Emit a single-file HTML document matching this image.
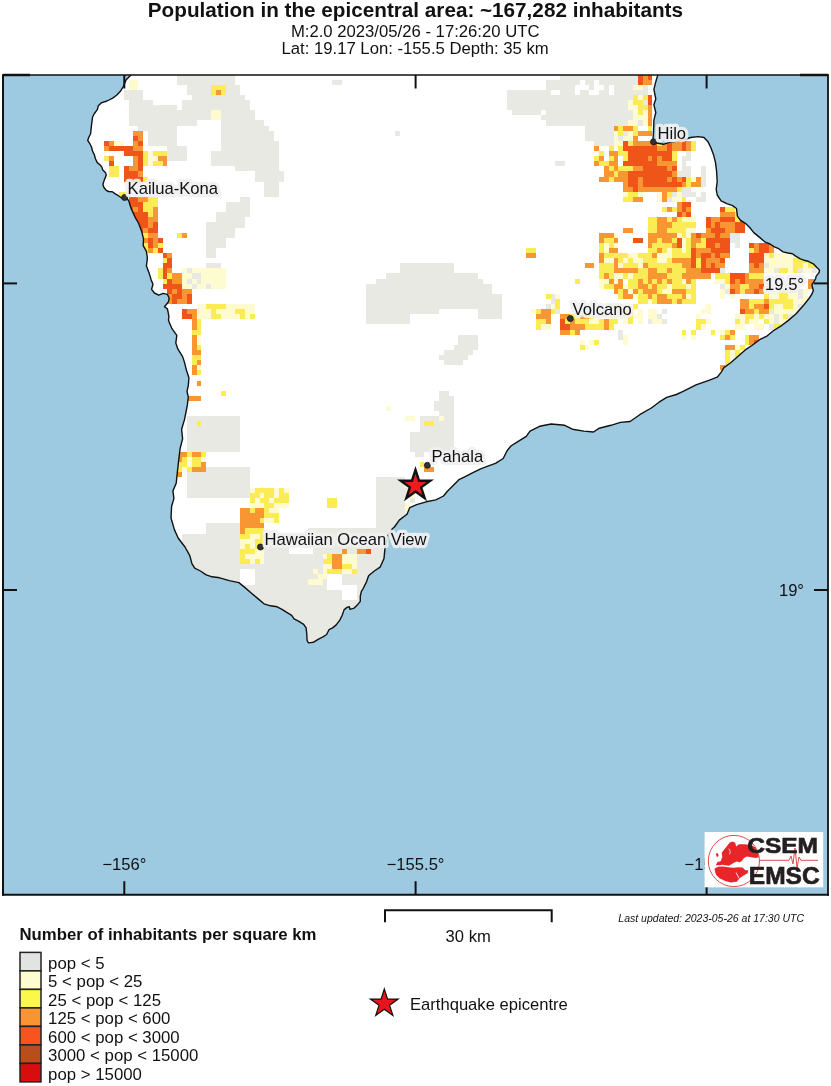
<!DOCTYPE html>
<html><head><meta charset="utf-8"><title>Population map</title>
<style>
html,body{margin:0;padding:0;background:#fff;}
body{width:831px;height:1086px;overflow:hidden;position:relative;}
svg{position:absolute;left:0;top:0;font-family:"Liberation Sans", sans-serif;-webkit-font-smoothing:antialiased;}
</style></head><body>
<svg width="831" height="1086" viewBox="0 0 831 1086" style="will-change:transform">
<rect x="3" y="75" width="825" height="819.7" fill="#9ecae1"/>
<defs><clipPath id="land"><polygon points="131,75 657.8,75 655.8,81.7 653.9,89.4 655.8,99 653.9,104.8 655.8,112.5 653.9,120.2 653.5,131.8 652.9,141.4 657.8,143.3 663.5,144.3 669.3,142.3 677,141.4 684.7,139.5 690.5,137.5 698.2,136.6 704,137.5 707.8,141.4 710.7,147.2 713.6,154.9 715.5,162.6 716.5,170.3 717.2,181.6 716.2,189.3 717.2,195 721.1,200.8 726.8,203.7 732.6,205.6 736.5,208.5 737.4,216.2 740.3,220.1 746.1,223.9 749.9,227.8 753.8,232.6 759.6,237.4 765.3,242.2 770,244 774.3,246.9 778.7,248.7 783,251.9 788,253 792.4,253.7 795.3,255.9 800.3,258.8 803.9,260.2 808.3,261.3 813.3,263.8 816.9,267.4 819.5,270.3 819.1,272.5 816.2,276.1 815.5,279 813.3,282.6 811.9,284.8 812.6,287.7 813.3,290.5 811.9,294.2 809,298.5 803.8,305 796.1,313.7 788.4,320.4 780.7,326.2 773,331 767.3,335.8 759.6,339.7 751.9,345.5 746.1,349.3 738.4,356 730.7,362.8 723.9,367.6 721.1,372.4 717.2,377.2 709.5,380.1 696,384.9 682.6,391.7 676.3,394.5 666.7,397.4 659,402.2 651.3,408 639.7,414.7 630.1,421.5 620.5,422.4 610.9,425.3 599.3,428.2 593.5,432 583.9,431.1 572.4,429.2 564.7,425.3 551.2,424 539.6,426.3 530,431.1 526.3,436.4 518.6,441.2 510.9,446 507.1,450.8 503.2,458.5 495.5,463.3 487.8,466.2 480.1,469.1 472.4,472.9 464.7,476.8 458.9,479.7 453.2,485.5 447.4,491.2 443.5,496 435.8,499.9 426.2,501.8 416.6,504.7 409.8,507.6 407,514.3 399.3,520.1 394.4,527 392.6,528.5 387.8,535.4 384.9,548.9 384,558.5 380.1,567.2 374.3,571 368.6,575.8 366.6,581.6 362.8,589.3 361.5,591.2 360.3,596 360.3,601.4 357.8,604.4 354.2,608.1 350,609.3 349.4,606.8 347,607.4 344,609.9 342.2,615.3 339.8,620.1 336.2,624.9 332.6,627.9 329,629.7 326.6,634.5 323,636.9 318.1,639.3 313.3,642.3 308.5,642.9 307.1,640.5 306.7,633.3 306.1,627.9 303.7,624.3 298.9,621.3 294.1,618.9 291.7,615.3 286.8,612.3 282,609.3 277.2,606.8 270.5,605.8 264,603.8 258.2,598.9 251.5,593.2 244.7,587.4 238.9,582.6 229.3,580.6 219.7,577.8 212,576.8 206.2,574.9 200.4,571 194.7,568.1 191.8,563.3 189.8,555.6 185,547 178.3,538.3 174.4,529.6 171.6,520 171,517.8 171.6,506.3 173.9,498.6 172.9,490.9 176.2,483.2 177.4,471.6 178.7,460.1 180.1,448.5 182.6,438.9 181.6,429.3 184.5,419.6 186.4,410 187.4,404.7 188.3,397 187,391.3 188.3,385.5 188.9,377.8 186.4,370.1 184.5,362.4 182.6,356.6 177.8,348.9 175.8,343.1 176.8,335.4 172,328.7 169.1,322 168.5,320 168.9,316.8 168.2,312.5 167.4,308.9 164.5,306.7 168.5,301.7 169.2,298 167.4,294.4 163.1,293.4 158.8,295.2 154.4,293 151.6,289.4 153,284.3 151.2,280 149.3,273.6 146.4,265.9 147.4,258.2 146.4,251.4 143.2,245.6 143.5,238.9 141.6,231.2 138.7,223.5 134.9,216.8 131,208.1 130,205 129.1,201.7 127.3,198.7 124.3,198.7 121.3,197.8 118.3,195.7 115.3,193.9 112.3,191.8 108.7,191.5 106.2,190.3 103.8,187.3 102.9,184.3 104.1,180.6 105,178.2 106.2,175.2 105.6,172.8 102.6,169.8 102,167.4 100.2,165 97.3,162.6 95.4,158.7 94.4,154.9 92.5,151.0 91.6,147.2 89.6,143.3 87.7,140.4 88.7,137.5 90.6,133.7 91.2,127.9 91.9,122.1 92.5,117.3 94.4,113.5 97.3,109.6 98.3,105.8 101.2,102.9 107.0,101.0 112.7,98.1 116.6,95.2 120.4,91.3 123.3,86.5 126.2,79.8 131,75"/></clipPath></defs>
<polygon points="131,75 657.8,75 655.8,81.7 653.9,89.4 655.8,99 653.9,104.8 655.8,112.5 653.9,120.2 653.5,131.8 652.9,141.4 657.8,143.3 663.5,144.3 669.3,142.3 677,141.4 684.7,139.5 690.5,137.5 698.2,136.6 704,137.5 707.8,141.4 710.7,147.2 713.6,154.9 715.5,162.6 716.5,170.3 717.2,181.6 716.2,189.3 717.2,195 721.1,200.8 726.8,203.7 732.6,205.6 736.5,208.5 737.4,216.2 740.3,220.1 746.1,223.9 749.9,227.8 753.8,232.6 759.6,237.4 765.3,242.2 770,244 774.3,246.9 778.7,248.7 783,251.9 788,253 792.4,253.7 795.3,255.9 800.3,258.8 803.9,260.2 808.3,261.3 813.3,263.8 816.9,267.4 819.5,270.3 819.1,272.5 816.2,276.1 815.5,279 813.3,282.6 811.9,284.8 812.6,287.7 813.3,290.5 811.9,294.2 809,298.5 803.8,305 796.1,313.7 788.4,320.4 780.7,326.2 773,331 767.3,335.8 759.6,339.7 751.9,345.5 746.1,349.3 738.4,356 730.7,362.8 723.9,367.6 721.1,372.4 717.2,377.2 709.5,380.1 696,384.9 682.6,391.7 676.3,394.5 666.7,397.4 659,402.2 651.3,408 639.7,414.7 630.1,421.5 620.5,422.4 610.9,425.3 599.3,428.2 593.5,432 583.9,431.1 572.4,429.2 564.7,425.3 551.2,424 539.6,426.3 530,431.1 526.3,436.4 518.6,441.2 510.9,446 507.1,450.8 503.2,458.5 495.5,463.3 487.8,466.2 480.1,469.1 472.4,472.9 464.7,476.8 458.9,479.7 453.2,485.5 447.4,491.2 443.5,496 435.8,499.9 426.2,501.8 416.6,504.7 409.8,507.6 407,514.3 399.3,520.1 394.4,527 392.6,528.5 387.8,535.4 384.9,548.9 384,558.5 380.1,567.2 374.3,571 368.6,575.8 366.6,581.6 362.8,589.3 361.5,591.2 360.3,596 360.3,601.4 357.8,604.4 354.2,608.1 350,609.3 349.4,606.8 347,607.4 344,609.9 342.2,615.3 339.8,620.1 336.2,624.9 332.6,627.9 329,629.7 326.6,634.5 323,636.9 318.1,639.3 313.3,642.3 308.5,642.9 307.1,640.5 306.7,633.3 306.1,627.9 303.7,624.3 298.9,621.3 294.1,618.9 291.7,615.3 286.8,612.3 282,609.3 277.2,606.8 270.5,605.8 264,603.8 258.2,598.9 251.5,593.2 244.7,587.4 238.9,582.6 229.3,580.6 219.7,577.8 212,576.8 206.2,574.9 200.4,571 194.7,568.1 191.8,563.3 189.8,555.6 185,547 178.3,538.3 174.4,529.6 171.6,520 171,517.8 171.6,506.3 173.9,498.6 172.9,490.9 176.2,483.2 177.4,471.6 178.7,460.1 180.1,448.5 182.6,438.9 181.6,429.3 184.5,419.6 186.4,410 187.4,404.7 188.3,397 187,391.3 188.3,385.5 188.9,377.8 186.4,370.1 184.5,362.4 182.6,356.6 177.8,348.9 175.8,343.1 176.8,335.4 172,328.7 169.1,322 168.5,320 168.9,316.8 168.2,312.5 167.4,308.9 164.5,306.7 168.5,301.7 169.2,298 167.4,294.4 163.1,293.4 158.8,295.2 154.4,293 151.6,289.4 153,284.3 151.2,280 149.3,273.6 146.4,265.9 147.4,258.2 146.4,251.4 143.2,245.6 143.5,238.9 141.6,231.2 138.7,223.5 134.9,216.8 131,208.1 130,205 129.1,201.7 127.3,198.7 124.3,198.7 121.3,197.8 118.3,195.7 115.3,193.9 112.3,191.8 108.7,191.5 106.2,190.3 103.8,187.3 102.9,184.3 104.1,180.6 105,178.2 106.2,175.2 105.6,172.8 102.6,169.8 102,167.4 100.2,165 97.3,162.6 95.4,158.7 94.4,154.9 92.5,151.0 91.6,147.2 89.6,143.3 87.7,140.4 88.7,137.5 90.6,133.7 91.2,127.9 91.9,122.1 92.5,117.3 94.4,113.5 97.3,109.6 98.3,105.8 101.2,102.9 107.0,101.0 112.7,98.1 116.6,95.2 120.4,91.3 123.3,86.5 126.2,79.8 131,75" fill="#fff"/>
<g clip-path="url(#land)" shape-rendering="crispEdges"><path fill="#e8e9e2" d="M177.10,74.50h58.20v5.10h-58.20zM560.25,74.50h77.60v5.10h-77.60zM177.10,79.60h58.20v5.10h-58.20zM332.30,79.60h9.70v5.10h-9.70zM545.70,79.60h33.95v5.10h-33.95zM584.50,79.60h9.70v5.10h-9.70zM599.05,79.60h38.80v5.10h-38.80zM186.80,84.70h24.25v5.10h-24.25zM225.60,84.70h14.55v5.10h-14.55zM545.70,84.70h29.10v5.10h-29.10zM589.35,84.70h4.85v5.10h-4.85zM603.90,84.70h4.85v5.10h-4.85zM613.60,84.70h19.40v5.10h-19.40zM642.70,84.70h4.85v5.10h-4.85zM123.75,89.80h19.40v5.10h-19.40zM186.80,89.80h24.25v5.10h-24.25zM225.60,89.80h14.55v5.10h-14.55zM506.90,89.80h43.65v5.10h-43.65zM560.25,89.80h14.55v5.10h-14.55zM579.65,89.80h9.70v5.10h-9.70zM599.05,89.80h9.70v5.10h-9.70zM613.60,89.80h33.95v5.10h-33.95zM123.75,94.90h19.40v5.10h-19.40zM191.65,94.90h53.35v5.10h-53.35zM506.90,94.90h126.10v5.10h-126.10zM128.60,100.00h24.25v5.10h-24.25zM181.95,100.00h67.90v5.10h-67.90zM506.90,100.00h121.25v5.10h-121.25zM642.70,100.00h4.85v5.10h-4.85zM128.60,105.10h48.50v5.10h-48.50zM181.95,105.10h67.90v5.10h-67.90zM506.90,105.10h121.25v5.10h-121.25zM128.60,110.20h82.45v5.10h-82.45zM220.75,110.20h33.95v5.10h-33.95zM511.75,110.20h29.10v5.10h-29.10zM545.70,110.20h87.30v5.10h-87.30zM128.60,115.30h82.45v5.10h-82.45zM220.75,115.30h33.95v5.10h-33.95zM540.85,115.30h92.15v5.10h-92.15zM128.60,120.40h67.90v5.10h-67.90zM220.75,120.40h43.65v5.10h-43.65zM545.70,120.40h82.45v5.10h-82.45zM637.85,120.40h4.85v5.10h-4.85zM138.30,125.50h38.80v5.10h-38.80zM220.75,125.50h48.50v5.10h-48.50zM584.50,125.50h29.10v5.10h-29.10zM148.00,130.60h29.10v5.10h-29.10zM220.75,130.60h53.35v5.10h-53.35zM395.35,130.60h4.85v5.10h-4.85zM584.50,130.60h29.10v5.10h-29.10zM623.30,130.60h4.85v5.10h-4.85zM148.00,135.70h29.10v5.10h-29.10zM220.75,135.70h53.35v5.10h-53.35zM584.50,135.70h29.10v5.10h-29.10zM618.45,135.70h4.85v5.10h-4.85zM148.00,140.80h29.10v5.10h-29.10zM220.75,140.80h58.20v5.10h-58.20zM594.20,140.80h19.40v5.10h-19.40zM167.40,145.90h19.40v5.10h-19.40zM220.75,145.90h58.20v5.10h-58.20zM167.40,151.00h19.40v5.10h-19.40zM211.05,151.00h67.90v5.10h-67.90zM686.35,151.00h4.85v5.10h-4.85zM167.40,156.10h19.40v5.10h-19.40zM211.05,156.10h67.90v5.10h-67.90zM681.50,156.10h9.70v5.10h-9.70zM211.05,161.20h67.90v5.10h-67.90zM555.40,161.20h9.70v5.10h-9.70zM681.50,161.20h4.85v5.10h-4.85zM235.30,166.30h43.65v5.10h-43.65zM681.50,166.30h9.70v5.10h-9.70zM700.90,166.30h4.85v5.10h-4.85zM254.70,171.40h29.10v5.10h-29.10zM676.65,171.40h14.55v5.10h-14.55zM700.90,171.40h4.85v5.10h-4.85zM254.70,176.50h29.10v5.10h-29.10zM700.90,176.50h4.85v5.10h-4.85zM264.40,181.60h14.55v5.10h-14.55zM700.90,181.60h4.85v5.10h-4.85zM264.40,186.70h14.55v5.10h-14.55zM681.50,186.70h9.70v5.10h-9.70zM264.40,191.80h14.55v5.10h-14.55zM671.80,191.80h4.85v5.10h-4.85zM681.50,191.80h14.55v5.10h-14.55zM700.90,191.80h4.85v5.10h-4.85zM240.15,196.90h9.70v5.10h-9.70zM666.95,196.90h4.85v5.10h-4.85zM696.05,196.90h9.70v5.10h-9.70zM225.60,202.00h24.25v5.10h-24.25zM225.60,207.10h24.25v5.10h-24.25zM215.90,212.20h33.95v5.10h-33.95zM215.90,217.30h29.10v5.10h-29.10zM206.20,222.40h38.80v5.10h-38.80zM206.20,227.50h29.10v5.10h-29.10zM206.20,232.60h29.10v5.10h-29.10zM730.00,232.60h9.70v5.10h-9.70zM206.20,237.70h19.40v5.10h-19.40zM730.00,237.70h9.70v5.10h-9.70zM206.20,242.80h19.40v5.10h-19.40zM734.85,242.80h4.85v5.10h-4.85zM206.20,247.90h9.70v5.10h-9.70zM206.20,253.00h9.70v5.10h-9.70zM186.80,268.30h4.85v5.10h-4.85zM400.20,268.30h53.35v5.10h-53.35zM720.30,268.30h4.85v5.10h-4.85zM773.65,268.30h4.85v5.10h-4.85zM797.90,268.30h4.85v5.10h-4.85zM812.45,268.30h4.85v5.10h-4.85zM206.20,263.20h14.55v5.10h-14.55zM400.20,263.20h53.35v5.10h-53.35zM763.95,263.20h4.85v5.10h-4.85zM191.65,273.40h9.70v5.10h-9.70zM385.65,273.40h92.15v5.10h-92.15zM186.80,278.50h4.85v5.10h-4.85zM196.50,278.50h4.85v5.10h-4.85zM375.95,278.50h106.70v5.10h-106.70zM191.65,283.60h4.85v5.10h-4.85zM206.20,283.60h4.85v5.10h-4.85zM366.25,283.60h126.10v5.10h-126.10zM720.30,283.60h4.85v5.10h-4.85zM366.25,288.70h126.10v5.10h-126.10zM725.15,288.70h4.85v5.10h-4.85zM797.90,288.70h4.85v5.10h-4.85zM366.25,293.80h135.80v5.10h-135.80zM550.55,293.80h4.85v5.10h-4.85zM797.90,293.80h4.85v5.10h-4.85zM366.25,298.90h135.80v5.10h-135.80zM550.55,298.90h4.85v5.10h-4.85zM366.25,304.00h135.80v5.10h-135.80zM545.70,304.00h4.85v5.10h-4.85zM797.90,304.00h9.70v5.10h-9.70zM366.25,309.10h72.75v5.10h-72.75zM477.80,309.10h24.25v5.10h-24.25zM555.40,309.10h4.85v5.10h-4.85zM662.10,309.10h4.85v5.10h-4.85zM768.80,309.10h4.85v5.10h-4.85zM797.90,309.10h4.85v5.10h-4.85zM366.25,314.20h43.65v5.10h-43.65zM477.80,314.20h24.25v5.10h-24.25zM657.25,314.20h4.85v5.10h-4.85zM773.65,314.20h4.85v5.10h-4.85zM788.20,314.20h4.85v5.10h-4.85zM366.25,319.30h43.65v5.10h-43.65zM647.55,319.30h4.85v5.10h-4.85zM662.10,319.30h4.85v5.10h-4.85zM773.65,319.30h4.85v5.10h-4.85zM439.00,390.70h9.70v5.10h-9.70zM439.00,395.80h14.55v5.10h-14.55zM458.40,334.60h19.40v5.10h-19.40zM618.45,334.60h4.85v5.10h-4.85zM458.40,339.70h19.40v5.10h-19.40zM453.55,344.80h24.25v5.10h-24.25zM443.85,349.90h29.10v5.10h-29.10zM439.00,355.00h29.10v5.10h-29.10zM443.85,360.10h19.40v5.10h-19.40zM434.15,400.90h19.40v5.10h-19.40zM434.15,406.00h19.40v5.10h-19.40zM439.00,411.10h14.55v5.10h-14.55zM186.80,416.20h53.35v5.10h-53.35zM419.60,416.20h19.40v5.10h-19.40zM443.85,416.20h9.70v5.10h-9.70zM186.80,421.30h9.70v5.10h-9.70zM201.35,421.30h38.80v5.10h-38.80zM419.60,421.30h4.85v5.10h-4.85zM434.15,421.30h19.40v5.10h-19.40zM186.80,426.40h53.35v5.10h-53.35zM419.60,426.40h33.95v5.10h-33.95zM186.80,431.50h53.35v5.10h-53.35zM409.90,431.50h43.65v5.10h-43.65zM186.80,436.60h53.35v5.10h-53.35zM409.90,436.60h43.65v5.10h-43.65zM186.80,441.70h53.35v5.10h-53.35zM409.90,441.70h43.65v5.10h-43.65zM186.80,446.80h53.35v5.10h-53.35zM409.90,446.80h43.65v5.10h-43.65zM414.75,451.90h9.70v5.10h-9.70zM186.80,477.40h63.05v5.10h-63.05zM375.95,477.40h29.10v5.10h-29.10zM186.80,482.50h63.05v5.10h-63.05zM375.95,482.50h29.10v5.10h-29.10zM186.80,487.60h63.05v5.10h-63.05zM375.95,487.60h33.95v5.10h-33.95zM186.80,492.70h63.05v5.10h-63.05zM375.95,492.70h33.95v5.10h-33.95zM375.95,497.80h29.10v5.10h-29.10zM409.90,497.80h4.85v5.10h-4.85zM375.95,502.90h29.10v5.10h-29.10zM375.95,508.00h29.10v5.10h-29.10zM375.95,513.10h33.95v5.10h-33.95zM375.95,518.20h33.95v5.10h-33.95zM206.20,467.20h43.65v5.10h-43.65zM186.80,472.30h63.05v5.10h-63.05zM206.20,523.30h33.95v5.10h-33.95zM375.95,523.30h33.95v5.10h-33.95zM206.20,528.40h33.95v5.10h-33.95zM308.05,528.40h101.85v5.10h-101.85zM181.95,533.50h58.20v5.10h-58.20zM264.40,533.50h121.25v5.10h-121.25zM181.95,538.60h58.20v5.10h-58.20zM264.40,538.60h121.25v5.10h-121.25zM181.95,543.70h58.20v5.10h-58.20zM264.40,543.70h24.25v5.10h-24.25zM312.90,543.70h72.75v5.10h-72.75zM181.95,548.80h58.20v5.10h-58.20zM264.40,548.80h24.25v5.10h-24.25zM312.90,548.80h29.10v5.10h-29.10zM346.85,548.80h9.70v5.10h-9.70zM371.10,548.80h14.55v5.10h-14.55zM181.95,553.90h58.20v5.10h-58.20zM264.40,553.90h58.20v5.10h-58.20zM356.55,553.90h29.10v5.10h-29.10zM181.95,559.00h58.20v5.10h-58.20zM264.40,559.00h58.20v5.10h-58.20zM356.55,559.00h29.10v5.10h-29.10zM181.95,564.10h140.65v5.10h-140.65zM356.55,564.10h29.10v5.10h-29.10zM181.95,569.20h58.20v5.10h-58.20zM254.70,569.20h58.20v5.10h-58.20zM317.75,569.20h4.85v5.10h-4.85zM356.55,569.20h29.10v5.10h-29.10zM181.95,574.30h58.20v5.10h-58.20zM254.70,574.30h63.05v5.10h-63.05zM342.00,574.30h43.65v5.10h-43.65zM181.95,579.40h58.20v5.10h-58.20zM254.70,579.40h53.35v5.10h-53.35zM322.60,579.40h4.85v5.10h-4.85zM342.00,579.40h43.65v5.10h-43.65zM196.50,584.50h130.95v5.10h-130.95zM356.55,584.50h14.55v5.10h-14.55zM196.50,589.60h145.50v5.10h-145.50zM356.55,589.60h14.55v5.10h-14.55zM196.50,594.70h145.50v5.10h-145.50zM356.55,594.70h14.55v5.10h-14.55zM196.50,599.80h174.60v5.10h-174.60zM196.50,604.90h174.60v5.10h-174.60zM254.70,610.00h87.30v5.10h-87.30zM254.70,615.10h87.30v5.10h-87.30zM254.70,620.20h87.30v5.10h-87.30zM254.70,625.30h87.30v5.10h-87.30zM293.50,630.40h38.80v5.10h-38.80zM293.50,635.50h38.80v5.10h-38.80zM618.45,329.50h4.85v5.10h-4.85zM768.80,324.40h4.85v5.10h-4.85zM793.05,324.40h9.70v5.10h-9.70z"/><path fill="#fdfbcf" d="M128.60,79.60h9.70v5.10h-9.70zM128.60,84.70h9.70v5.10h-9.70zM633.00,84.70h9.70v5.10h-9.70zM637.85,94.90h4.85v5.10h-4.85zM628.15,100.00h4.85v5.10h-4.85zM628.15,105.10h9.70v5.10h-9.70zM211.05,110.20h9.70v5.10h-9.70zM633.00,110.20h4.85v5.10h-4.85zM642.70,110.20h4.85v5.10h-4.85zM211.05,115.30h9.70v5.10h-9.70zM633.00,115.30h14.55v5.10h-14.55zM628.15,120.40h9.70v5.10h-9.70zM642.70,120.40h4.85v5.10h-4.85zM613.60,130.60h4.85v5.10h-4.85zM628.15,130.60h4.85v5.10h-4.85zM613.60,135.70h4.85v5.10h-4.85zM623.30,135.70h9.70v5.10h-9.70zM114.05,140.80h9.70v5.10h-9.70zM613.60,140.80h9.70v5.10h-9.70zM148.00,151.00h4.85v5.10h-4.85zM148.00,156.10h9.70v5.10h-9.70zM148.00,161.20h4.85v5.10h-4.85zM691.20,176.50h4.85v5.10h-4.85zM623.30,191.80h4.85v5.10h-4.85zM637.85,191.80h4.85v5.10h-4.85zM657.25,191.80h4.85v5.10h-4.85zM676.65,191.80h4.85v5.10h-4.85zM657.25,196.90h4.85v5.10h-4.85zM671.80,196.90h9.70v5.10h-9.70zM681.50,217.30h14.55v5.10h-14.55zM686.35,227.50h9.70v5.10h-9.70zM613.60,232.60h4.85v5.10h-4.85zM676.65,232.60h4.85v5.10h-4.85zM686.35,232.60h4.85v5.10h-4.85zM681.50,237.70h4.85v5.10h-4.85zM603.90,242.80h4.85v5.10h-4.85zM613.60,242.80h4.85v5.10h-4.85zM681.50,242.80h4.85v5.10h-4.85zM603.90,247.90h4.85v5.10h-4.85zM666.95,247.90h4.85v5.10h-4.85zM681.50,247.90h4.85v5.10h-4.85zM628.15,253.00h9.70v5.10h-9.70zM657.25,253.00h14.55v5.10h-14.55zM763.95,253.00h4.85v5.10h-4.85zM773.65,253.00h24.25v5.10h-24.25zM807.60,253.00h4.85v5.10h-4.85zM181.95,268.30h4.85v5.10h-4.85zM191.65,268.30h33.95v5.10h-33.95zM763.95,268.30h9.70v5.10h-9.70zM788.20,268.30h4.85v5.10h-4.85zM802.75,268.30h9.70v5.10h-9.70zM618.45,263.20h4.85v5.10h-4.85zM637.85,263.20h4.85v5.10h-4.85zM768.80,263.20h24.25v5.10h-24.25zM802.75,263.20h4.85v5.10h-4.85zM181.95,273.40h9.70v5.10h-9.70zM201.35,273.40h24.25v5.10h-24.25zM613.60,273.40h9.70v5.10h-9.70zM628.15,273.40h4.85v5.10h-4.85zM181.95,278.50h4.85v5.10h-4.85zM191.65,278.50h4.85v5.10h-4.85zM201.35,278.50h24.25v5.10h-24.25zM599.05,278.50h9.70v5.10h-9.70zM613.60,278.50h4.85v5.10h-4.85zM681.50,278.50h4.85v5.10h-4.85zM715.45,278.50h9.70v5.10h-9.70zM181.95,283.60h9.70v5.10h-9.70zM196.50,283.60h9.70v5.10h-9.70zM211.05,283.60h14.55v5.10h-14.55zM599.05,283.60h4.85v5.10h-4.85zM623.30,283.60h4.85v5.10h-4.85zM666.95,283.60h4.85v5.10h-4.85zM686.35,283.60h4.85v5.10h-4.85zM725.15,283.60h4.85v5.10h-4.85zM628.15,288.70h4.85v5.10h-4.85zM662.10,288.70h9.70v5.10h-9.70zM720.30,288.70h4.85v5.10h-4.85zM763.95,288.70h14.55v5.10h-14.55zM788.20,288.70h9.70v5.10h-9.70zM802.75,288.70h4.85v5.10h-4.85zM555.40,293.80h4.85v5.10h-4.85zM633.00,293.80h4.85v5.10h-4.85zM686.35,293.80h4.85v5.10h-4.85zM720.30,293.80h4.85v5.10h-4.85zM730.00,293.80h4.85v5.10h-4.85zM768.80,293.80h9.70v5.10h-9.70zM788.20,293.80h9.70v5.10h-9.70zM802.75,293.80h4.85v5.10h-4.85zM647.55,298.90h4.85v5.10h-4.85zM793.05,298.90h14.55v5.10h-14.55zM196.50,304.00h9.70v5.10h-9.70zM225.60,304.00h29.10v5.10h-29.10zM550.55,304.00h4.85v5.10h-4.85zM623.30,304.00h4.85v5.10h-4.85zM705.75,304.00h4.85v5.10h-4.85zM773.65,304.00h9.70v5.10h-9.70zM793.05,304.00h4.85v5.10h-4.85zM196.50,309.10h14.55v5.10h-14.55zM215.90,309.10h19.40v5.10h-19.40zM245.00,309.10h9.70v5.10h-9.70zM531.15,309.10h4.85v5.10h-4.85zM637.85,309.10h4.85v5.10h-4.85zM647.55,309.10h9.70v5.10h-9.70zM700.90,309.10h9.70v5.10h-9.70zM773.65,309.10h24.25v5.10h-24.25zM196.50,314.20h14.55v5.10h-14.55zM220.75,314.20h19.40v5.10h-19.40zM245.00,314.20h4.85v5.10h-4.85zM608.75,314.20h19.40v5.10h-19.40zM633.00,314.20h9.70v5.10h-9.70zM647.55,314.20h9.70v5.10h-9.70zM696.05,314.20h4.85v5.10h-4.85zM734.85,314.20h9.70v5.10h-9.70zM754.25,314.20h4.85v5.10h-4.85zM763.95,314.20h9.70v5.10h-9.70zM778.50,314.20h4.85v5.10h-4.85zM793.05,314.20h9.70v5.10h-9.70zM589.35,319.30h9.70v5.10h-9.70zM623.30,319.30h4.85v5.10h-4.85zM637.85,319.30h4.85v5.10h-4.85zM652.40,319.30h9.70v5.10h-9.70zM705.75,319.30h4.85v5.10h-4.85zM739.70,319.30h4.85v5.10h-4.85zM749.40,319.30h9.70v5.10h-9.70zM768.80,319.30h4.85v5.10h-4.85zM778.50,319.30h9.70v5.10h-9.70zM793.05,319.30h9.70v5.10h-9.70zM196.50,334.60h4.85v5.10h-4.85zM623.30,334.60h4.85v5.10h-4.85zM681.50,334.60h4.85v5.10h-4.85zM691.20,334.60h4.85v5.10h-4.85zM196.50,339.70h4.85v5.10h-4.85zM579.65,339.70h4.85v5.10h-4.85zM589.35,339.70h4.85v5.10h-4.85zM623.30,339.70h4.85v5.10h-4.85zM584.50,344.80h4.85v5.10h-4.85zM734.85,344.80h4.85v5.10h-4.85zM730.00,349.90h4.85v5.10h-4.85zM739.70,349.90h4.85v5.10h-4.85zM730.00,355.00h4.85v5.10h-4.85zM730.00,360.10h4.85v5.10h-4.85zM385.65,406.00h4.85v5.10h-4.85zM405.05,416.20h9.70v5.10h-9.70zM439.00,416.20h4.85v5.10h-4.85zM405.05,482.50h4.85v5.10h-4.85zM249.85,487.60h4.85v5.10h-4.85zM274.10,487.60h4.85v5.10h-4.85zM283.80,487.60h4.85v5.10h-4.85zM259.55,492.70h4.85v5.10h-4.85zM274.10,492.70h4.85v5.10h-4.85zM409.90,492.70h4.85v5.10h-4.85zM254.70,497.80h4.85v5.10h-4.85zM269.25,497.80h4.85v5.10h-4.85zM249.85,502.90h14.55v5.10h-14.55zM274.10,502.90h14.55v5.10h-14.55zM405.05,502.90h4.85v5.10h-4.85zM269.25,508.00h9.70v5.10h-9.70zM405.05,508.00h4.85v5.10h-4.85zM264.40,518.20h9.70v5.10h-9.70zM181.95,467.20h4.85v5.10h-4.85zM249.85,533.50h9.70v5.10h-9.70zM240.15,538.60h14.55v5.10h-14.55zM240.15,543.70h4.85v5.10h-4.85zM249.85,543.70h4.85v5.10h-4.85zM254.70,548.80h9.70v5.10h-9.70zM245.00,553.90h19.40v5.10h-19.40zM322.60,553.90h4.85v5.10h-4.85zM342.00,553.90h14.55v5.10h-14.55zM249.85,559.00h4.85v5.10h-4.85zM259.55,559.00h4.85v5.10h-4.85zM342.00,559.00h14.55v5.10h-14.55zM322.60,564.10h9.70v5.10h-9.70zM351.70,564.10h4.85v5.10h-4.85zM312.90,569.20h4.85v5.10h-4.85zM322.60,569.20h4.85v5.10h-4.85zM342.00,569.20h9.70v5.10h-9.70zM317.75,574.30h9.70v5.10h-9.70zM308.05,579.40h14.55v5.10h-14.55zM603.90,258.10h9.70v5.10h-9.70zM623.30,258.10h4.85v5.10h-4.85zM633.00,258.10h9.70v5.10h-9.70zM657.25,258.10h9.70v5.10h-9.70zM763.95,258.10h29.10v5.10h-29.10zM720.30,329.50h4.85v5.10h-4.85zM540.85,324.40h9.70v5.10h-9.70zM700.90,324.40h4.85v5.10h-4.85zM734.85,324.40h9.70v5.10h-9.70zM754.25,324.40h9.70v5.10h-9.70zM196.50,365.20h4.85v5.10h-4.85zM725.15,365.20h9.70v5.10h-9.70zM739.70,365.20h4.85v5.10h-4.85zM186.80,462.10h4.85v5.10h-4.85zM186.80,457.00h4.85v5.10h-4.85zM201.35,457.00h4.85v5.10h-4.85z"/><path fill="#fbec55" d="M211.05,84.70h14.55v5.10h-14.55zM211.05,89.80h4.85v5.10h-4.85zM220.75,89.80h4.85v5.10h-4.85zM633.00,94.90h4.85v5.10h-4.85zM642.70,94.90h4.85v5.10h-4.85zM633.00,100.00h9.70v5.10h-9.70zM637.85,105.10h9.70v5.10h-9.70zM637.85,110.20h4.85v5.10h-4.85zM618.45,125.50h4.85v5.10h-4.85zM633.00,125.50h4.85v5.10h-4.85zM647.55,125.50h4.85v5.10h-4.85zM618.45,130.60h4.85v5.10h-4.85zM633.00,130.60h4.85v5.10h-4.85zM628.15,140.80h4.85v5.10h-4.85zM657.25,140.80h4.85v5.10h-4.85zM691.20,140.80h4.85v5.10h-4.85zM608.75,145.90h4.85v5.10h-4.85zM618.45,145.90h4.85v5.10h-4.85zM691.20,145.90h4.85v5.10h-4.85zM143.15,151.00h4.85v5.10h-4.85zM152.85,151.00h14.55v5.10h-14.55zM599.05,151.00h4.85v5.10h-4.85zM618.45,151.00h9.70v5.10h-9.70zM671.80,151.00h4.85v5.10h-4.85zM104.35,156.10h4.85v5.10h-4.85zM143.15,156.10h4.85v5.10h-4.85zM594.20,156.10h4.85v5.10h-4.85zM608.75,156.10h4.85v5.10h-4.85zM623.30,156.10h4.85v5.10h-4.85zM671.80,156.10h4.85v5.10h-4.85zM143.15,161.20h4.85v5.10h-4.85zM152.85,161.20h9.70v5.10h-9.70zM599.05,161.20h9.70v5.10h-9.70zM109.20,166.30h9.70v5.10h-9.70zM608.75,166.30h4.85v5.10h-4.85zM618.45,166.30h14.55v5.10h-14.55zM109.20,171.40h9.70v5.10h-9.70zM613.60,171.40h4.85v5.10h-4.85zM143.15,176.50h4.85v5.10h-4.85zM608.75,176.50h4.85v5.10h-4.85zM686.35,176.50h4.85v5.10h-4.85zM686.35,181.60h4.85v5.10h-4.85zM676.65,186.70h4.85v5.10h-4.85zM118.90,191.80h9.70v5.10h-9.70zM628.15,191.80h9.70v5.10h-9.70zM666.95,191.80h4.85v5.10h-4.85zM148.00,196.90h9.70v5.10h-9.70zM623.30,196.90h9.70v5.10h-9.70zM681.50,196.90h4.85v5.10h-4.85zM143.15,202.00h14.55v5.10h-14.55zM143.15,207.10h9.70v5.10h-9.70zM662.10,207.10h4.85v5.10h-4.85zM671.80,207.10h4.85v5.10h-4.85zM725.15,207.10h9.70v5.10h-9.70zM148.00,212.20h4.85v5.10h-4.85zM734.85,212.20h9.70v5.10h-9.70zM128.60,217.30h4.85v5.10h-4.85zM647.55,217.30h9.70v5.10h-9.70zM666.95,217.30h4.85v5.10h-4.85zM676.65,217.30h4.85v5.10h-4.85zM734.85,217.30h4.85v5.10h-4.85zM647.55,222.40h9.70v5.10h-9.70zM671.80,222.40h24.25v5.10h-24.25zM128.60,227.50h4.85v5.10h-4.85zM647.55,227.50h9.70v5.10h-9.70zM666.95,227.50h19.40v5.10h-19.40zM133.45,232.60h4.85v5.10h-4.85zM143.15,232.60h4.85v5.10h-4.85zM177.10,232.60h4.85v5.10h-4.85zM681.50,232.60h4.85v5.10h-4.85zM603.90,237.70h9.70v5.10h-9.70zM657.25,237.70h4.85v5.10h-4.85zM671.80,237.70h4.85v5.10h-4.85zM686.35,237.70h4.85v5.10h-4.85zM700.90,237.70h4.85v5.10h-4.85zM143.15,242.80h4.85v5.10h-4.85zM157.70,242.80h4.85v5.10h-4.85zM599.05,242.80h4.85v5.10h-4.85zM608.75,242.80h4.85v5.10h-4.85zM652.40,242.80h19.40v5.10h-19.40zM686.35,242.80h4.85v5.10h-4.85zM696.05,242.80h9.70v5.10h-9.70zM143.15,247.90h4.85v5.10h-4.85zM152.85,247.90h4.85v5.10h-4.85zM526.30,247.90h9.70v5.10h-9.70zM599.05,247.90h4.85v5.10h-4.85zM647.55,247.90h9.70v5.10h-9.70zM662.10,247.90h4.85v5.10h-4.85zM671.80,247.90h9.70v5.10h-9.70zM686.35,247.90h4.85v5.10h-4.85zM749.40,247.90h4.85v5.10h-4.85zM603.90,253.00h24.25v5.10h-24.25zM637.85,253.00h14.55v5.10h-14.55zM671.80,253.00h19.40v5.10h-19.40zM768.80,253.00h4.85v5.10h-4.85zM797.90,253.00h9.70v5.10h-9.70zM812.45,253.00h4.85v5.10h-4.85zM157.70,268.30h4.85v5.10h-4.85zM599.05,268.30h14.55v5.10h-14.55zM637.85,268.30h9.70v5.10h-9.70zM657.25,268.30h9.70v5.10h-9.70zM671.80,268.30h14.55v5.10h-14.55zM778.50,268.30h9.70v5.10h-9.70zM793.05,268.30h4.85v5.10h-4.85zM599.05,263.20h14.55v5.10h-14.55zM623.30,263.20h14.55v5.10h-14.55zM647.55,263.20h33.95v5.10h-33.95zM696.05,263.20h4.85v5.10h-4.85zM793.05,263.20h9.70v5.10h-9.70zM807.60,263.20h9.70v5.10h-9.70zM157.70,273.40h4.85v5.10h-4.85zM167.40,273.40h4.85v5.10h-4.85zM599.05,273.40h4.85v5.10h-4.85zM608.75,273.40h4.85v5.10h-4.85zM623.30,273.40h4.85v5.10h-4.85zM633.00,273.40h14.55v5.10h-14.55zM666.95,273.40h14.55v5.10h-14.55zM715.45,273.40h14.55v5.10h-14.55zM749.40,273.40h14.55v5.10h-14.55zM162.55,278.50h4.85v5.10h-4.85zM574.80,278.50h4.85v5.10h-4.85zM628.15,278.50h9.70v5.10h-9.70zM642.70,278.50h4.85v5.10h-4.85zM652.40,278.50h4.85v5.10h-4.85zM662.10,278.50h4.85v5.10h-4.85zM671.80,278.50h9.70v5.10h-9.70zM691.20,278.50h4.85v5.10h-4.85zM725.15,278.50h4.85v5.10h-4.85zM603.90,283.60h9.70v5.10h-9.70zM628.15,283.60h9.70v5.10h-9.70zM647.55,283.60h4.85v5.10h-4.85zM657.25,283.60h9.70v5.10h-9.70zM671.80,283.60h14.55v5.10h-14.55zM691.20,283.60h4.85v5.10h-4.85zM739.70,283.60h9.70v5.10h-9.70zM618.45,288.70h4.85v5.10h-4.85zM637.85,288.70h4.85v5.10h-4.85zM657.25,288.70h4.85v5.10h-4.85zM686.35,288.70h9.70v5.10h-9.70zM739.70,288.70h4.85v5.10h-4.85zM778.50,288.70h9.70v5.10h-9.70zM545.70,293.80h4.85v5.10h-4.85zM618.45,293.80h4.85v5.10h-4.85zM637.85,293.80h9.70v5.10h-9.70zM652.40,293.80h4.85v5.10h-4.85zM666.95,293.80h14.55v5.10h-14.55zM691.20,293.80h4.85v5.10h-4.85zM763.95,293.80h4.85v5.10h-4.85zM778.50,293.80h9.70v5.10h-9.70zM555.40,298.90h4.85v5.10h-4.85zM637.85,298.90h9.70v5.10h-9.70zM652.40,298.90h4.85v5.10h-4.85zM671.80,298.90h4.85v5.10h-4.85zM681.50,298.90h14.55v5.10h-14.55zM749.40,298.90h14.55v5.10h-14.55zM768.80,298.90h24.25v5.10h-24.25zM206.20,304.00h19.40v5.10h-19.40zM555.40,304.00h4.85v5.10h-4.85zM608.75,304.00h14.55v5.10h-14.55zM633.00,304.00h4.85v5.10h-4.85zM749.40,304.00h4.85v5.10h-4.85zM768.80,304.00h4.85v5.10h-4.85zM783.35,304.00h9.70v5.10h-9.70zM211.05,309.10h4.85v5.10h-4.85zM235.30,309.10h9.70v5.10h-9.70zM536.00,309.10h4.85v5.10h-4.85zM550.55,309.10h4.85v5.10h-4.85zM608.75,309.10h9.70v5.10h-9.70zM623.30,309.10h9.70v5.10h-9.70zM754.25,309.10h4.85v5.10h-4.85zM211.05,314.20h9.70v5.10h-9.70zM240.15,314.20h4.85v5.10h-4.85zM249.85,314.20h4.85v5.10h-4.85zM569.95,314.20h9.70v5.10h-9.70zM589.35,314.20h4.85v5.10h-4.85zM628.15,314.20h4.85v5.10h-4.85zM744.55,314.20h9.70v5.10h-9.70zM759.10,314.20h4.85v5.10h-4.85zM783.35,314.20h4.85v5.10h-4.85zM196.50,319.30h4.85v5.10h-4.85zM536.00,319.30h9.70v5.10h-9.70zM565.10,319.30h4.85v5.10h-4.85zM574.80,319.30h14.55v5.10h-14.55zM599.05,319.30h4.85v5.10h-4.85zM608.75,319.30h9.70v5.10h-9.70zM628.15,319.30h4.85v5.10h-4.85zM696.05,319.30h9.70v5.10h-9.70zM734.85,319.30h4.85v5.10h-4.85zM744.55,319.30h4.85v5.10h-4.85zM763.95,319.30h4.85v5.10h-4.85zM788.20,319.30h4.85v5.10h-4.85zM220.75,390.70h4.85v5.10h-4.85zM720.30,334.60h4.85v5.10h-4.85zM730.00,334.60h4.85v5.10h-4.85zM744.55,334.60h4.85v5.10h-4.85zM594.20,339.70h4.85v5.10h-4.85zM744.55,339.70h4.85v5.10h-4.85zM196.50,344.80h4.85v5.10h-4.85zM579.65,344.80h4.85v5.10h-4.85zM739.70,344.80h4.85v5.10h-4.85zM725.15,349.90h4.85v5.10h-4.85zM734.85,349.90h4.85v5.10h-4.85zM191.65,355.00h9.70v5.10h-9.70zM725.15,355.00h4.85v5.10h-4.85zM734.85,355.00h4.85v5.10h-4.85zM191.65,360.10h4.85v5.10h-4.85zM725.15,360.10h4.85v5.10h-4.85zM734.85,360.10h4.85v5.10h-4.85zM196.50,421.30h4.85v5.10h-4.85zM424.45,421.30h9.70v5.10h-9.70zM186.80,451.90h4.85v5.10h-4.85zM201.35,451.90h4.85v5.10h-4.85zM254.70,487.60h19.40v5.10h-19.40zM278.95,487.60h4.85v5.10h-4.85zM249.85,492.70h9.70v5.10h-9.70zM264.40,492.70h9.70v5.10h-9.70zM278.95,492.70h9.70v5.10h-9.70zM249.85,497.80h4.85v5.10h-4.85zM259.55,497.80h9.70v5.10h-9.70zM274.10,497.80h14.55v5.10h-14.55zM327.45,497.80h9.70v5.10h-9.70zM264.40,502.90h9.70v5.10h-9.70zM327.45,502.90h9.70v5.10h-9.70zM249.85,508.00h4.85v5.10h-4.85zM264.40,508.00h4.85v5.10h-4.85zM264.40,513.10h14.55v5.10h-14.55zM259.55,518.20h4.85v5.10h-4.85zM274.10,518.20h4.85v5.10h-4.85zM177.10,467.20h4.85v5.10h-4.85zM186.80,467.20h4.85v5.10h-4.85zM245.00,528.40h19.40v5.10h-19.40zM240.15,533.50h9.70v5.10h-9.70zM259.55,533.50h4.85v5.10h-4.85zM254.70,538.60h9.70v5.10h-9.70zM245.00,543.70h4.85v5.10h-4.85zM254.70,543.70h9.70v5.10h-9.70zM240.15,548.80h14.55v5.10h-14.55zM240.15,553.90h4.85v5.10h-4.85zM327.45,553.90h4.85v5.10h-4.85zM240.15,559.00h9.70v5.10h-9.70zM254.70,559.00h4.85v5.10h-4.85zM322.60,559.00h9.70v5.10h-9.70zM342.00,564.10h9.70v5.10h-9.70zM327.45,569.20h14.55v5.10h-14.55zM351.70,569.20h4.85v5.10h-4.85zM162.55,258.10h4.85v5.10h-4.85zM618.45,258.10h4.85v5.10h-4.85zM628.15,258.10h4.85v5.10h-4.85zM642.70,258.10h14.55v5.10h-14.55zM666.95,258.10h4.85v5.10h-4.85zM696.05,258.10h4.85v5.10h-4.85zM793.05,258.10h24.25v5.10h-24.25zM191.65,329.50h9.70v5.10h-9.70zM569.95,329.50h4.85v5.10h-4.85zM681.50,329.50h4.85v5.10h-4.85zM691.20,329.50h4.85v5.10h-4.85zM710.60,329.50h4.85v5.10h-4.85zM725.15,329.50h4.85v5.10h-4.85zM196.50,324.40h4.85v5.10h-4.85zM536.00,324.40h4.85v5.10h-4.85zM584.50,324.40h19.40v5.10h-19.40zM608.75,324.40h4.85v5.10h-4.85zM696.05,324.40h4.85v5.10h-4.85zM773.65,324.40h19.40v5.10h-19.40zM734.85,365.20h4.85v5.10h-4.85zM177.10,462.10h9.70v5.10h-9.70zM191.65,462.10h9.70v5.10h-9.70zM419.60,462.10h4.85v5.10h-4.85zM196.50,370.30h4.85v5.10h-4.85zM181.95,457.00h4.85v5.10h-4.85zM191.65,457.00h9.70v5.10h-9.70z"/><path fill="#f99634" d="M642.70,74.50h4.85v5.10h-4.85zM642.70,79.60h9.70v5.10h-9.70zM215.90,89.80h4.85v5.10h-4.85zM647.55,105.10h4.85v5.10h-4.85zM647.55,110.20h4.85v5.10h-4.85zM647.55,115.30h4.85v5.10h-4.85zM647.55,120.40h4.85v5.10h-4.85zM613.60,125.50h4.85v5.10h-4.85zM623.30,125.50h9.70v5.10h-9.70zM133.45,130.60h9.70v5.10h-9.70zM637.85,130.60h14.55v5.10h-14.55zM138.30,135.70h4.85v5.10h-4.85zM633.00,135.70h4.85v5.10h-4.85zM109.20,140.80h4.85v5.10h-4.85zM133.45,140.80h4.85v5.10h-4.85zM633.00,140.80h19.40v5.10h-19.40zM662.10,140.80h4.85v5.10h-4.85zM671.80,140.80h9.70v5.10h-9.70zM686.35,140.80h4.85v5.10h-4.85zM104.35,145.90h4.85v5.10h-4.85zM133.45,145.90h9.70v5.10h-9.70zM594.20,145.90h4.85v5.10h-4.85zM657.25,145.90h9.70v5.10h-9.70zM671.80,145.90h9.70v5.10h-9.70zM686.35,145.90h4.85v5.10h-4.85zM608.75,151.00h9.70v5.10h-9.70zM109.20,156.10h4.85v5.10h-4.85zM133.45,156.10h4.85v5.10h-4.85zM157.70,156.10h9.70v5.10h-9.70zM599.05,156.10h4.85v5.10h-4.85zM613.60,156.10h4.85v5.10h-4.85zM647.55,156.10h4.85v5.10h-4.85zM657.25,156.10h4.85v5.10h-4.85zM133.45,161.20h4.85v5.10h-4.85zM162.55,161.20h4.85v5.10h-4.85zM594.20,161.20h4.85v5.10h-4.85zM608.75,161.20h9.70v5.10h-9.70zM657.25,161.20h19.40v5.10h-19.40zM128.60,166.30h9.70v5.10h-9.70zM603.90,166.30h4.85v5.10h-4.85zM613.60,166.30h4.85v5.10h-4.85zM633.00,166.30h9.70v5.10h-9.70zM666.95,166.30h4.85v5.10h-4.85zM138.30,171.40h4.85v5.10h-4.85zM603.90,171.40h9.70v5.10h-9.70zM618.45,171.40h9.70v5.10h-9.70zM671.80,171.40h4.85v5.10h-4.85zM599.05,176.50h9.70v5.10h-9.70zM613.60,176.50h14.55v5.10h-14.55zM637.85,176.50h4.85v5.10h-4.85zM666.95,176.50h4.85v5.10h-4.85zM676.65,176.50h4.85v5.10h-4.85zM696.05,176.50h4.85v5.10h-4.85zM623.30,181.60h4.85v5.10h-4.85zM637.85,181.60h4.85v5.10h-4.85zM681.50,181.60h4.85v5.10h-4.85zM691.20,181.60h9.70v5.10h-9.70zM623.30,186.70h9.70v5.10h-9.70zM637.85,186.70h38.80v5.10h-38.80zM662.10,191.80h4.85v5.10h-4.85zM138.30,196.90h9.70v5.10h-9.70zM633.00,196.90h9.70v5.10h-9.70zM662.10,196.90h4.85v5.10h-4.85zM676.65,202.00h4.85v5.10h-4.85zM133.45,207.10h4.85v5.10h-4.85zM152.85,207.10h4.85v5.10h-4.85zM666.95,207.10h4.85v5.10h-4.85zM676.65,207.10h4.85v5.10h-4.85zM686.35,207.10h4.85v5.10h-4.85zM152.85,212.20h4.85v5.10h-4.85zM681.50,212.20h4.85v5.10h-4.85zM720.30,212.20h14.55v5.10h-14.55zM148.00,217.30h9.70v5.10h-9.70zM657.25,217.30h9.70v5.10h-9.70zM671.80,217.30h4.85v5.10h-4.85zM710.60,217.30h9.70v5.10h-9.70zM128.60,222.40h4.85v5.10h-4.85zM148.00,222.40h4.85v5.10h-4.85zM657.25,222.40h14.55v5.10h-14.55zM710.60,222.40h4.85v5.10h-4.85zM720.30,222.40h14.55v5.10h-14.55zM133.45,227.50h4.85v5.10h-4.85zM143.15,227.50h4.85v5.10h-4.85zM623.30,227.50h9.70v5.10h-9.70zM657.25,227.50h9.70v5.10h-9.70zM705.75,227.50h4.85v5.10h-4.85zM725.15,227.50h9.70v5.10h-9.70zM138.30,232.60h4.85v5.10h-4.85zM148.00,232.60h9.70v5.10h-9.70zM181.95,232.60h4.85v5.10h-4.85zM599.05,232.60h14.55v5.10h-14.55zM647.55,232.60h29.10v5.10h-29.10zM691.20,232.60h4.85v5.10h-4.85zM700.90,232.60h14.55v5.10h-14.55zM720.30,232.60h9.70v5.10h-9.70zM143.15,237.70h4.85v5.10h-4.85zM152.85,237.70h4.85v5.10h-4.85zM599.05,237.70h4.85v5.10h-4.85zM613.60,237.70h4.85v5.10h-4.85zM647.55,237.70h9.70v5.10h-9.70zM662.10,237.70h9.70v5.10h-9.70zM691.20,237.70h9.70v5.10h-9.70zM152.85,242.80h4.85v5.10h-4.85zM647.55,242.80h4.85v5.10h-4.85zM671.80,242.80h4.85v5.10h-4.85zM691.20,242.80h4.85v5.10h-4.85zM715.45,242.80h4.85v5.10h-4.85zM754.25,242.80h4.85v5.10h-4.85zM768.80,242.80h4.85v5.10h-4.85zM148.00,247.90h4.85v5.10h-4.85zM608.75,247.90h9.70v5.10h-9.70zM657.25,247.90h4.85v5.10h-4.85zM696.05,247.90h14.55v5.10h-14.55zM754.25,247.90h4.85v5.10h-4.85zM768.80,247.90h4.85v5.10h-4.85zM167.40,253.00h4.85v5.10h-4.85zM526.30,253.00h9.70v5.10h-9.70zM599.05,253.00h4.85v5.10h-4.85zM652.40,253.00h4.85v5.10h-4.85zM696.05,253.00h4.85v5.10h-4.85zM710.60,253.00h4.85v5.10h-4.85zM720.30,253.00h9.70v5.10h-9.70zM167.40,268.30h4.85v5.10h-4.85zM613.60,268.30h24.25v5.10h-24.25zM647.55,268.30h9.70v5.10h-9.70zM666.95,268.30h4.85v5.10h-4.85zM686.35,268.30h14.55v5.10h-14.55zM749.40,268.30h14.55v5.10h-14.55zM584.50,263.20h9.70v5.10h-9.70zM613.60,263.20h4.85v5.10h-4.85zM642.70,263.20h4.85v5.10h-4.85zM681.50,263.20h9.70v5.10h-9.70zM705.75,263.20h4.85v5.10h-4.85zM715.45,263.20h9.70v5.10h-9.70zM749.40,263.20h4.85v5.10h-4.85zM759.10,263.20h4.85v5.10h-4.85zM172.25,273.40h9.70v5.10h-9.70zM603.90,273.40h4.85v5.10h-4.85zM647.55,273.40h19.40v5.10h-19.40zM681.50,273.40h29.10v5.10h-29.10zM744.55,273.40h4.85v5.10h-4.85zM172.25,278.50h9.70v5.10h-9.70zM608.75,278.50h4.85v5.10h-4.85zM618.45,278.50h4.85v5.10h-4.85zM637.85,278.50h4.85v5.10h-4.85zM647.55,278.50h4.85v5.10h-4.85zM657.25,278.50h4.85v5.10h-4.85zM666.95,278.50h4.85v5.10h-4.85zM686.35,278.50h4.85v5.10h-4.85zM734.85,278.50h4.85v5.10h-4.85zM744.55,278.50h19.40v5.10h-19.40zM807.60,278.50h9.70v5.10h-9.70zM613.60,283.60h9.70v5.10h-9.70zM637.85,283.60h9.70v5.10h-9.70zM652.40,283.60h4.85v5.10h-4.85zM730.00,283.60h9.70v5.10h-9.70zM749.40,283.60h9.70v5.10h-9.70zM807.60,283.60h9.70v5.10h-9.70zM172.25,288.70h4.85v5.10h-4.85zM181.95,288.70h9.70v5.10h-9.70zM613.60,288.70h4.85v5.10h-4.85zM623.30,288.70h4.85v5.10h-4.85zM633.00,288.70h4.85v5.10h-4.85zM642.70,288.70h14.55v5.10h-14.55zM671.80,288.70h14.55v5.10h-14.55zM734.85,288.70h4.85v5.10h-4.85zM744.55,288.70h9.70v5.10h-9.70zM759.10,288.70h4.85v5.10h-4.85zM167.40,293.80h4.85v5.10h-4.85zM181.95,293.80h4.85v5.10h-4.85zM623.30,293.80h9.70v5.10h-9.70zM647.55,293.80h4.85v5.10h-4.85zM657.25,293.80h9.70v5.10h-9.70zM681.50,293.80h4.85v5.10h-4.85zM167.40,298.90h4.85v5.10h-4.85zM177.10,298.90h9.70v5.10h-9.70zM657.25,298.90h14.55v5.10h-14.55zM676.65,298.90h4.85v5.10h-4.85zM739.70,298.90h9.70v5.10h-9.70zM763.95,298.90h4.85v5.10h-4.85zM739.70,304.00h9.70v5.10h-9.70zM754.25,304.00h9.70v5.10h-9.70zM186.80,309.10h9.70v5.10h-9.70zM540.85,309.10h9.70v5.10h-9.70zM744.55,309.10h9.70v5.10h-9.70zM759.10,309.10h9.70v5.10h-9.70zM191.65,314.20h4.85v5.10h-4.85zM536.00,314.20h14.55v5.10h-14.55zM560.25,314.20h9.70v5.10h-9.70zM579.65,314.20h9.70v5.10h-9.70zM191.65,319.30h4.85v5.10h-4.85zM545.70,319.30h4.85v5.10h-4.85zM569.95,319.30h4.85v5.10h-4.85zM603.90,319.30h4.85v5.10h-4.85zM186.80,395.80h14.55v5.10h-14.55zM191.65,334.60h4.85v5.10h-4.85zM725.15,334.60h4.85v5.10h-4.85zM749.40,334.60h9.70v5.10h-9.70zM191.65,339.70h4.85v5.10h-4.85zM749.40,339.70h4.85v5.10h-4.85zM191.65,344.80h4.85v5.10h-4.85zM725.15,344.80h9.70v5.10h-9.70zM191.65,349.90h9.70v5.10h-9.70zM739.70,355.00h4.85v5.10h-4.85zM196.50,360.10h4.85v5.10h-4.85zM739.70,360.10h4.85v5.10h-4.85zM177.10,451.90h9.70v5.10h-9.70zM191.65,451.90h9.70v5.10h-9.70zM240.15,508.00h9.70v5.10h-9.70zM254.70,508.00h9.70v5.10h-9.70zM240.15,513.10h24.25v5.10h-24.25zM240.15,518.20h19.40v5.10h-19.40zM191.65,467.20h14.55v5.10h-14.55zM424.45,467.20h9.70v5.10h-9.70zM177.10,472.30h4.85v5.10h-4.85zM240.15,523.30h24.25v5.10h-24.25zM240.15,528.40h4.85v5.10h-4.85zM342.00,548.80h4.85v5.10h-4.85zM356.55,548.80h9.70v5.10h-9.70zM332.30,553.90h9.70v5.10h-9.70zM332.30,559.00h9.70v5.10h-9.70zM332.30,564.10h9.70v5.10h-9.70zM599.05,258.10h4.85v5.10h-4.85zM613.60,258.10h4.85v5.10h-4.85zM671.80,258.10h19.40v5.10h-19.40zM705.75,258.10h14.55v5.10h-14.55zM560.25,329.50h9.70v5.10h-9.70zM574.80,329.50h4.85v5.10h-4.85zM730.00,329.50h4.85v5.10h-4.85zM191.65,324.40h4.85v5.10h-4.85zM569.95,324.40h14.55v5.10h-14.55zM603.90,324.40h4.85v5.10h-4.85zM191.65,365.20h4.85v5.10h-4.85zM720.30,365.20h4.85v5.10h-4.85zM201.35,462.10h4.85v5.10h-4.85zM191.65,370.30h4.85v5.10h-4.85zM196.50,380.50h4.85v5.10h-4.85zM177.10,457.00h4.85v5.10h-4.85z"/><path fill="#ef5519" d="M637.85,74.50h4.85v5.10h-4.85zM647.55,74.50h4.85v5.10h-4.85zM637.85,79.60h4.85v5.10h-4.85zM647.55,94.90h4.85v5.10h-4.85zM647.55,100.00h4.85v5.10h-4.85zM133.45,135.70h4.85v5.10h-4.85zM104.35,140.80h4.85v5.10h-4.85zM138.30,140.80h4.85v5.10h-4.85zM623.30,140.80h4.85v5.10h-4.85zM652.40,140.80h4.85v5.10h-4.85zM666.95,140.80h4.85v5.10h-4.85zM681.50,140.80h4.85v5.10h-4.85zM109.20,145.90h24.25v5.10h-24.25zM623.30,145.90h33.95v5.10h-33.95zM666.95,145.90h4.85v5.10h-4.85zM681.50,145.90h4.85v5.10h-4.85zM123.75,151.00h19.40v5.10h-19.40zM628.15,151.00h43.65v5.10h-43.65zM138.30,156.10h4.85v5.10h-4.85zM628.15,156.10h19.40v5.10h-19.40zM652.40,156.10h4.85v5.10h-4.85zM662.10,156.10h9.70v5.10h-9.70zM109.20,161.20h4.85v5.10h-4.85zM138.30,161.20h4.85v5.10h-4.85zM623.30,161.20h33.95v5.10h-33.95zM123.75,166.30h4.85v5.10h-4.85zM138.30,166.30h4.85v5.10h-4.85zM642.70,166.30h24.25v5.10h-24.25zM671.80,166.30h4.85v5.10h-4.85zM123.75,171.40h14.55v5.10h-14.55zM628.15,171.40h43.65v5.10h-43.65zM123.75,176.50h19.40v5.10h-19.40zM628.15,176.50h9.70v5.10h-9.70zM642.70,176.50h24.25v5.10h-24.25zM671.80,176.50h4.85v5.10h-4.85zM681.50,176.50h4.85v5.10h-4.85zM628.15,181.60h9.70v5.10h-9.70zM642.70,181.60h38.80v5.10h-38.80zM633.00,186.70h4.85v5.10h-4.85zM128.60,196.90h9.70v5.10h-9.70zM128.60,202.00h14.55v5.10h-14.55zM681.50,202.00h9.70v5.10h-9.70zM128.60,207.10h4.85v5.10h-4.85zM138.30,207.10h4.85v5.10h-4.85zM681.50,207.10h4.85v5.10h-4.85zM720.30,207.10h4.85v5.10h-4.85zM128.60,212.20h19.40v5.10h-19.40zM676.65,212.20h4.85v5.10h-4.85zM686.35,212.20h4.85v5.10h-4.85zM133.45,217.30h14.55v5.10h-14.55zM705.75,217.30h4.85v5.10h-4.85zM720.30,217.30h14.55v5.10h-14.55zM739.70,217.30h4.85v5.10h-4.85zM133.45,222.40h14.55v5.10h-14.55zM152.85,222.40h4.85v5.10h-4.85zM705.75,222.40h4.85v5.10h-4.85zM715.45,222.40h4.85v5.10h-4.85zM734.85,222.40h9.70v5.10h-9.70zM138.30,227.50h4.85v5.10h-4.85zM148.00,227.50h9.70v5.10h-9.70zM710.60,227.50h14.55v5.10h-14.55zM734.85,227.50h9.70v5.10h-9.70zM128.60,232.60h4.85v5.10h-4.85zM696.05,232.60h4.85v5.10h-4.85zM715.45,232.60h4.85v5.10h-4.85zM148.00,237.70h4.85v5.10h-4.85zM157.70,237.70h4.85v5.10h-4.85zM633.00,237.70h9.70v5.10h-9.70zM676.65,237.70h4.85v5.10h-4.85zM705.75,237.70h24.25v5.10h-24.25zM148.00,242.80h4.85v5.10h-4.85zM676.65,242.80h4.85v5.10h-4.85zM705.75,242.80h9.70v5.10h-9.70zM720.30,242.80h9.70v5.10h-9.70zM749.40,242.80h4.85v5.10h-4.85zM759.10,242.80h9.70v5.10h-9.70zM157.70,247.90h4.85v5.10h-4.85zM691.20,247.90h4.85v5.10h-4.85zM710.60,247.90h19.40v5.10h-19.40zM759.10,247.90h9.70v5.10h-9.70zM162.55,253.00h4.85v5.10h-4.85zM691.20,253.00h4.85v5.10h-4.85zM700.90,253.00h9.70v5.10h-9.70zM715.45,253.00h4.85v5.10h-4.85zM749.40,253.00h14.55v5.10h-14.55zM162.55,268.30h4.85v5.10h-4.85zM700.90,268.30h19.40v5.10h-19.40zM162.55,263.20h9.70v5.10h-9.70zM691.20,263.20h4.85v5.10h-4.85zM700.90,263.20h4.85v5.10h-4.85zM710.60,263.20h4.85v5.10h-4.85zM754.25,263.20h4.85v5.10h-4.85zM162.55,273.40h4.85v5.10h-4.85zM730.00,273.40h14.55v5.10h-14.55zM167.40,278.50h4.85v5.10h-4.85zM730.00,278.50h4.85v5.10h-4.85zM739.70,278.50h4.85v5.10h-4.85zM162.55,283.60h19.40v5.10h-19.40zM759.10,283.60h4.85v5.10h-4.85zM167.40,288.70h4.85v5.10h-4.85zM177.10,288.70h4.85v5.10h-4.85zM730.00,288.70h4.85v5.10h-4.85zM754.25,288.70h4.85v5.10h-4.85zM172.25,293.80h9.70v5.10h-9.70zM186.80,293.80h4.85v5.10h-4.85zM172.25,298.90h4.85v5.10h-4.85zM186.80,298.90h4.85v5.10h-4.85zM763.95,304.00h4.85v5.10h-4.85zM181.95,309.10h4.85v5.10h-4.85zM739.70,309.10h4.85v5.10h-4.85zM181.95,314.20h9.70v5.10h-9.70zM560.25,319.30h4.85v5.10h-4.85zM754.25,339.70h4.85v5.10h-4.85zM366.25,548.80h4.85v5.10h-4.85zM167.40,258.10h4.85v5.10h-4.85zM691.20,258.10h4.85v5.10h-4.85zM700.90,258.10h4.85v5.10h-4.85zM720.30,258.10h4.85v5.10h-4.85zM749.40,258.10h14.55v5.10h-14.55zM560.25,324.40h9.70v5.10h-9.70z"/></g>
<path d="M657.8,75 L655.8,81.7 L653.9,89.4 L655.8,99 L653.9,104.8 L655.8,112.5 L653.9,120.2 L653.5,131.8 L652.9,141.4 L657.8,143.3 L663.5,144.3 L669.3,142.3 L677,141.4 L684.7,139.5 L690.5,137.5 L698.2,136.6 L704,137.5 L707.8,141.4 L710.7,147.2 L713.6,154.9 L715.5,162.6 L716.5,170.3 L717.2,181.6 L716.2,189.3 L717.2,195 L721.1,200.8 L726.8,203.7 L732.6,205.6 L736.5,208.5 L737.4,216.2 L740.3,220.1 L746.1,223.9 L749.9,227.8 L753.8,232.6 L759.6,237.4 L765.3,242.2 L770,244 L774.3,246.9 L778.7,248.7 L783,251.9 L788,253 L792.4,253.7 L795.3,255.9 L800.3,258.8 L803.9,260.2 L808.3,261.3 L813.3,263.8 L816.9,267.4 L819.5,270.3 L819.1,272.5 L816.2,276.1 L815.5,279 L813.3,282.6 L811.9,284.8 L812.6,287.7 L813.3,290.5 L811.9,294.2 L809,298.5 L803.8,305 L796.1,313.7 L788.4,320.4 L780.7,326.2 L773,331 L767.3,335.8 L759.6,339.7 L751.9,345.5 L746.1,349.3 L738.4,356 L730.7,362.8 L723.9,367.6 L721.1,372.4 L717.2,377.2 L709.5,380.1 L696,384.9 L682.6,391.7 L676.3,394.5 L666.7,397.4 L659,402.2 L651.3,408 L639.7,414.7 L630.1,421.5 L620.5,422.4 L610.9,425.3 L599.3,428.2 L593.5,432 L583.9,431.1 L572.4,429.2 L564.7,425.3 L551.2,424 L539.6,426.3 L530,431.1 L526.3,436.4 L518.6,441.2 L510.9,446 L507.1,450.8 L503.2,458.5 L495.5,463.3 L487.8,466.2 L480.1,469.1 L472.4,472.9 L464.7,476.8 L458.9,479.7 L453.2,485.5 L447.4,491.2 L443.5,496 L435.8,499.9 L426.2,501.8 L416.6,504.7 L409.8,507.6 L407,514.3 L399.3,520.1 L394.4,527 L392.6,528.5 L387.8,535.4 L384.9,548.9 L384,558.5 L380.1,567.2 L374.3,571 L368.6,575.8 L366.6,581.6 L362.8,589.3 L361.5,591.2 L360.3,596 L360.3,601.4 L357.8,604.4 L354.2,608.1 L350,609.3 L349.4,606.8 L347,607.4 L344,609.9 L342.2,615.3 L339.8,620.1 L336.2,624.9 L332.6,627.9 L329,629.7 L326.6,634.5 L323,636.9 L318.1,639.3 L313.3,642.3 L308.5,642.9 L307.1,640.5 L306.7,633.3 L306.1,627.9 L303.7,624.3 L298.9,621.3 L294.1,618.9 L291.7,615.3 L286.8,612.3 L282,609.3 L277.2,606.8 L270.5,605.8 L264,603.8 L258.2,598.9 L251.5,593.2 L244.7,587.4 L238.9,582.6 L229.3,580.6 L219.7,577.8 L212,576.8 L206.2,574.9 L200.4,571 L194.7,568.1 L191.8,563.3 L189.8,555.6 L185,547 L178.3,538.3 L174.4,529.6 L171.6,520 L171,517.8 L171.6,506.3 L173.9,498.6 L172.9,490.9 L176.2,483.2 L177.4,471.6 L178.7,460.1 L180.1,448.5 L182.6,438.9 L181.6,429.3 L184.5,419.6 L186.4,410 L187.4,404.7 L188.3,397 L187,391.3 L188.3,385.5 L188.9,377.8 L186.4,370.1 L184.5,362.4 L182.6,356.6 L177.8,348.9 L175.8,343.1 L176.8,335.4 L172,328.7 L169.1,322 L168.5,320 L168.9,316.8 L168.2,312.5 L167.4,308.9 L164.5,306.7 L168.5,301.7 L169.2,298 L167.4,294.4 L163.1,293.4 L158.8,295.2 L154.4,293 L151.6,289.4 L153,284.3 L151.2,280 L149.3,273.6 L146.4,265.9 L147.4,258.2 L146.4,251.4 L143.2,245.6 L143.5,238.9 L141.6,231.2 L138.7,223.5 L134.9,216.8 L131,208.1 L130,205 L129.1,201.7 L127.3,198.7 L124.3,198.7 L121.3,197.8 L118.3,195.7 L115.3,193.9 L112.3,191.8 L108.7,191.5 L106.2,190.3 L103.8,187.3 L102.9,184.3 L104.1,180.6 L105,178.2 L106.2,175.2 L105.6,172.8 L102.6,169.8 L102,167.4 L100.2,165 L97.3,162.6 L95.4,158.7 L94.4,154.9 L92.5,151.0 L91.6,147.2 L89.6,143.3 L87.7,140.4 L88.7,137.5 L90.6,133.7 L91.2,127.9 L91.9,122.1 L92.5,117.3 L94.4,113.5 L97.3,109.6 L98.3,105.8 L101.2,102.9 L107.0,101.0 L112.7,98.1 L116.6,95.2 L120.4,91.3 L123.3,86.5 L126.2,79.8 L131,75" fill="none" stroke="#111" stroke-width="1.4" stroke-linejoin="round"/>
<line x1="2" y1="75" x2="829" y2="75" stroke="#111" stroke-width="1.3"/>
<line x1="2" y1="894.7" x2="829" y2="894.7" stroke="#111" stroke-width="2"/>
<line x1="3" y1="75" x2="3" y2="895.7" stroke="#111" stroke-width="2"/>
<line x1="828" y1="75" x2="828" y2="895.7" stroke="#111" stroke-width="1.8"/>
<line x1="124.3" y1="75" x2="124.3" y2="88.5" stroke="#111" stroke-width="2"/>
<line x1="124.3" y1="894.7" x2="124.3" y2="881.2" stroke="#111" stroke-width="2"/>
<line x1="415.6" y1="75" x2="415.6" y2="88.5" stroke="#111" stroke-width="2"/>
<line x1="415.6" y1="894.7" x2="415.6" y2="881.2" stroke="#111" stroke-width="2"/>
<line x1="706.6" y1="75" x2="706.6" y2="88.5" stroke="#111" stroke-width="2"/>
<line x1="706.6" y1="894.7" x2="706.6" y2="881.2" stroke="#111" stroke-width="2"/>
<line x1="3" y1="283.4" x2="17" y2="283.4" stroke="#111" stroke-width="2"/>
<line x1="828" y1="283.4" x2="814" y2="283.4" stroke="#111" stroke-width="2"/>
<line x1="3" y1="590" x2="17" y2="590" stroke="#111" stroke-width="2"/>
<line x1="828" y1="590" x2="814" y2="590" stroke="#111" stroke-width="2"/>
<line x1="3" y1="75" x2="30" y2="75" stroke="#111" stroke-width="2.5"/>
<line x1="800" y1="75" x2="828" y2="75" stroke="#111" stroke-width="2.5"/>
<circle cx="124.6" cy="197.5" r="3" fill="#333" stroke="#111" stroke-width="0.8"/>
<circle cx="653.5" cy="141.8" r="3" fill="#333" stroke="#111" stroke-width="0.8"/>
<circle cx="427.4" cy="465.3" r="3" fill="#333" stroke="#111" stroke-width="0.8"/>
<circle cx="570.3" cy="318.6" r="3" fill="#333" stroke="#111" stroke-width="0.8"/>
<circle cx="260.5" cy="547.0" r="3" fill="#333" stroke="#111" stroke-width="0.8"/>
<text x="127.6" y="193.6" font-size="16.6" text-anchor="start" font-weight="normal" font-style="normal" fill="#111" stroke="#efefef" stroke-opacity="0.9" stroke-width="6.5" stroke-linejoin="round" paint-order="stroke" >Kailua-Kona</text>
<text x="657.5" y="138.5" font-size="16.6" text-anchor="start" font-weight="normal" font-style="normal" fill="#111" stroke="#efefef" stroke-opacity="0.9" stroke-width="6.5" stroke-linejoin="round" paint-order="stroke" >Hilo</text>
<text x="431.5" y="462.2" font-size="16.6" text-anchor="start" font-weight="normal" font-style="normal" fill="#111" stroke="#efefef" stroke-opacity="0.9" stroke-width="6.5" stroke-linejoin="round" paint-order="stroke" >Pahala</text>
<text x="572.6" y="314.5" font-size="16.6" text-anchor="start" font-weight="normal" font-style="normal" fill="#111" stroke="#efefef" stroke-opacity="0.9" stroke-width="6.5" stroke-linejoin="round" paint-order="stroke" >Volcano</text>
<text x="264.5" y="544.5" font-size="16.6" text-anchor="start" font-weight="normal" font-style="normal" fill="#111" stroke="#efefef" stroke-opacity="0.9" stroke-width="6.5" stroke-linejoin="round" paint-order="stroke" >Hawaiian Ocean View</text>
<polygon points="415.50,469.90 419.00,480.68 430.34,480.68 421.17,487.34 424.67,498.12 415.50,491.46 406.33,498.12 409.83,487.34 400.66,480.68 412.00,480.68" fill="#ee1c1c" stroke="#111" stroke-width="2.4" stroke-linejoin="miter"/>
<text x="124.4" y="870.2" font-size="16.6" text-anchor="middle" font-weight="normal" font-style="normal" fill="#111" >−156°</text>
<text x="415.6" y="870.2" font-size="16.6" text-anchor="middle" font-weight="normal" font-style="normal" fill="#111" >−155.5°</text>
<text x="706.6" y="870.2" font-size="16.6" text-anchor="middle" font-weight="normal" font-style="normal" fill="#111" >−155°</text>
<text x="804" y="289.5" font-size="16.6" text-anchor="end" font-weight="normal" font-style="normal" fill="#111" stroke="#efefef" stroke-opacity="0.9" stroke-width="6.5" stroke-linejoin="round" paint-order="stroke" >19.5°</text>
<text x="804" y="596" font-size="16.6" text-anchor="end" font-weight="normal" font-style="normal" fill="#111" >19°</text>
<rect x="704.6" y="832" width="118.6" height="55.3" fill="#fff"/>
<defs><clipPath id="globe"><circle cx="733.9" cy="861" r="25.3"/></clipPath></defs>
<g clip-path="url(#globe)" fill="#e8262a"><polygon points="715.83,865.21 717.27,862.32 720.88,860.88 722.33,856.55 721.61,852.94 723.77,850.05 726.66,846.44 729.55,842.83 732.44,841.39 735.32,842.83 736.05,846.44 738.94,844.27 743.99,844.27 749.77,844.64 755.54,847.16 758.43,851.49 759.15,857.27 755.54,857.99 751.21,857.27 746.88,856.55 743.99,857.99 741.82,860.88 739.66,862.32 736.77,861.60 733.88,862.69 730.99,864.49 728.83,865.79 725.22,865.36 722.33,864.85 719.44,865.36"/><polygon points="714.39,868.82 718.00,866.80 723.05,866.51 728.10,867.23 733.88,867.81 738.21,867.23 742.55,867.38 745.43,870.27 748.32,870.27 747.60,873.16 743.99,875.32 739.66,878.21 736.77,881.82 730.99,882.54 725.22,881.10 719.44,878.21 715.83,874.60"/></g>
<polyline points="736.05,872.43 738.94,878.21" stroke="#fff" stroke-width="0.8" fill="none"/>
<ellipse cx="736.05" cy="863.77" rx="2.8" ry="1.1" fill="#fff"/>
<polyline points="728.83,848.61 730.27,851.49 729.55,854.38" stroke="#fff" stroke-width="0.7" fill="none"/>
<polygon points="715.83,853.66 717.64,852.94 718.72,855.83 716.91,857.27" fill="#e8262a"/>
<circle cx="733.9" cy="861" r="25.6" fill="none" stroke="#d93a3a" stroke-width="0.9"/>
<path d="M760,860.3 L789,860.3 L791,856 L793,864 L795,848 L797,868 L799,857 L801,860.3 L818,860.3" fill="none" stroke="#d93a3a" stroke-width="0.9"/>
<text x="747.2" y="853.4" font-size="22.3" font-weight="bold" fill="#231f20" stroke="#231f20" stroke-width="0.7" textLength="70.8" lengthAdjust="spacingAndGlyphs">CSEM</text>
<text x="748.8" y="883.5" font-size="23.3" font-weight="bold" fill="#231f20" stroke="#231f20" stroke-width="0.7" textLength="70.8" lengthAdjust="spacingAndGlyphs">EMSC</text>
<text x="415.4" y="16.8" font-size="20.7" text-anchor="middle" font-weight="bold" font-style="normal" fill="#111" >Population in the epicentral area: ~167,282 inhabitants</text>
<text x="415.2" y="36.7" font-size="16.7" text-anchor="middle" font-weight="normal" font-style="normal" fill="#111" >M:2.0 2023/05/26 - 17:26:20 UTC</text>
<text x="415.1" y="54.2" font-size="16.7" text-anchor="middle" font-weight="normal" font-style="normal" fill="#111" >Lat: 19.17 Lon: -155.5 Depth: 35 km</text>
<path d="M385,922.2 L385,910.2 L551.7,910.2 L551.7,922.2" fill="none" stroke="#111" stroke-width="2"/>
<text x="468.2" y="942.4" font-size="16.6" text-anchor="middle" font-weight="normal" font-style="normal" fill="#111" >30 km</text>
<text x="804" y="921.5" font-size="10.5" text-anchor="end" font-weight="normal" font-style="italic" fill="#111" >Last updated: 2023-05-26 at 17:30 UTC</text>
<text x="19.5" y="939.8" font-size="16.75" text-anchor="start" font-weight="bold" font-style="normal" fill="#111" >Number of inhabitants per square km</text>
<rect x="20" y="952.40" width="21" height="18.50" fill="#e2e4e2" stroke="#222" stroke-width="1.5"/>
<text x="48.1" y="968.85" font-size="16.8" text-anchor="start" font-weight="normal" font-style="normal" fill="#111" >pop &lt; 5</text>
<rect x="20" y="970.90" width="21" height="18.50" fill="#fdfbd0" stroke="#222" stroke-width="1.5"/>
<text x="48.1" y="987.35" font-size="16.8" text-anchor="start" font-weight="normal" font-style="normal" fill="#111" >5 &lt; pop &lt; 25</text>
<rect x="20" y="989.40" width="21" height="18.50" fill="#fbf84a" stroke="#222" stroke-width="1.5"/>
<text x="48.1" y="1005.85" font-size="16.8" text-anchor="start" font-weight="normal" font-style="normal" fill="#111" >25 &lt; pop &lt; 125</text>
<rect x="20" y="1007.90" width="21" height="18.50" fill="#f99433" stroke="#222" stroke-width="1.5"/>
<text x="48.1" y="1024.35" font-size="16.8" text-anchor="start" font-weight="normal" font-style="normal" fill="#111" >125 &lt; pop &lt; 600</text>
<rect x="20" y="1026.40" width="21" height="18.50" fill="#f8541e" stroke="#222" stroke-width="1.5"/>
<text x="48.1" y="1042.85" font-size="16.8" text-anchor="start" font-weight="normal" font-style="normal" fill="#111" >600 &lt; pop &lt; 3000</text>
<rect x="20" y="1044.90" width="21" height="18.50" fill="#b84e1c" stroke="#222" stroke-width="1.5"/>
<text x="48.1" y="1061.35" font-size="16.8" text-anchor="start" font-weight="normal" font-style="normal" fill="#111" >3000 &lt; pop &lt; 15000</text>
<rect x="20" y="1063.40" width="21" height="18.50" fill="#d90d0d" stroke="#222" stroke-width="1.5"/>
<text x="48.1" y="1079.85" font-size="16.8" text-anchor="start" font-weight="normal" font-style="normal" fill="#111" >pop &gt; 15000</text>
<polygon points="384.30,989.00 387.58,999.09 398.19,999.09 389.60,1005.32 392.88,1015.41 384.30,1009.18 375.72,1015.41 379.00,1005.32 370.41,999.09 381.02,999.09" fill="#e8141b" stroke="#111" stroke-width="1.2"/>
<text x="410" y="1009.8" font-size="16.6" text-anchor="start" font-weight="normal" font-style="normal" fill="#111" >Earthquake epicentre</text>
</svg>
</body></html>
